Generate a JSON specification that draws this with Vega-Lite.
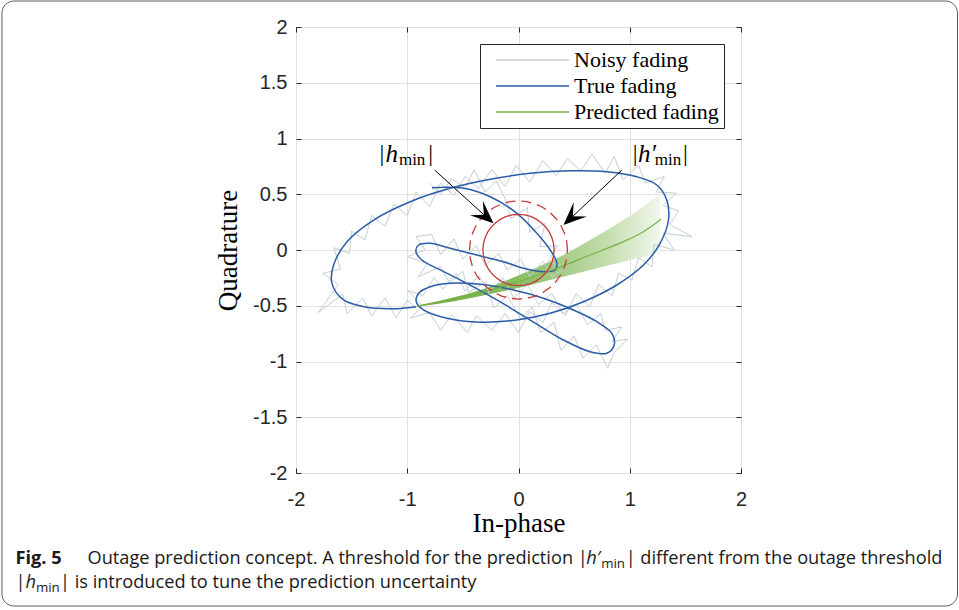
{
  "$schema": "https://vega.github.io/schema/vega-lite/v6.json",
  "width": 445,
  "height": 446,
  "autosize": {"type": "none"},
  "padding": {"left": 296, "top": 27, "right": 218, "bottom": 137},
  "background": "white",
  "config": {
    "font": "Liberation Sans",
    "view": {"stroke": "#262626", "strokeWidth": 1},
    "legend": {
      "orient": "top-right",
      "offset": 17,
      "strokeColor": "#262626",
      "fillColor": "white",
      "padding": 5,
      "symbolType": "M0,0L14.6,0",
      "symbolSize": 100,
      "symbolStrokeWidth": 1.5,
      "labelFont": "Liberation Serif",
      "labelFontSize": 22,
      "labelColor": "black",
      "labelOffset": 67,
      "rowPadding": 4
    }
  },
  "data": {"values": [{}]},
  "datasets": {
    "truth": [
      {"k": 1, "x": -0.778, "y": 0.559}, {"k": 2, "x": -0.494, "y": 0.553}, {"k": 3, "x": -0.254, "y": 0.478},
      {"k": 4, "x": -0.014, "y": 0.329}, {"k": 5, "x": 0.165, "y": 0.15}, {"k": 6, "x": 0.285, "y": 0.0},
      {"k": 7, "x": 0.345, "y": -0.119}, {"k": 8, "x": 0.33, "y": -0.179}, {"k": 9, "x": 0.225, "y": -0.195},
      {"k": 10, "x": 0.045, "y": -0.164}, {"k": 11, "x": -0.135, "y": -0.105}, {"k": 12, "x": -0.374, "y": -0.045},
      {"k": 13, "x": -0.614, "y": 0.015}, {"k": 14, "x": -0.793, "y": 0.06}, {"k": 15, "x": -0.898, "y": 0.045},
      {"k": 16, "x": -0.922, "y": -0.015}, {"k": 17, "x": -0.868, "y": -0.09}, {"k": 18, "x": -0.703, "y": -0.179},
      {"k": 19, "x": -0.464, "y": -0.299}, {"k": 20, "x": -0.194, "y": -0.448}, {"k": 21, "x": 0.105, "y": -0.628},
      {"k": 22, "x": 0.404, "y": -0.807}, {"k": 23, "x": 0.644, "y": -0.912}, {"k": 24, "x": 0.794, "y": -0.926},
      {"k": 25, "x": 0.86, "y": -0.852}, {"k": 26, "x": 0.839, "y": -0.747}, {"k": 27, "x": 0.704, "y": -0.643},
      {"k": 28, "x": 0.494, "y": -0.538}, {"k": 29, "x": 0.225, "y": -0.433}, {"k": 30, "x": -0.045, "y": -0.359},
      {"k": 31, "x": -0.344, "y": -0.308}, {"k": 32, "x": -0.614, "y": -0.299}, {"k": 33, "x": -0.793, "y": -0.329},
      {"k": 34, "x": -0.898, "y": -0.388}, {"k": 35, "x": -0.919, "y": -0.464}, {"k": 36, "x": -0.854, "y": -0.538},
      {"k": 37, "x": -0.643, "y": -0.613}, {"k": 38, "x": -0.344, "y": -0.648}, {"k": 39, "x": -0.014, "y": -0.628},
      {"k": 40, "x": 0.285, "y": -0.568}, {"k": 41, "x": 0.584, "y": -0.464}, {"k": 42, "x": 0.884, "y": -0.314},
      {"k": 43, "x": 1.123, "y": -0.135}, {"k": 44, "x": 1.273, "y": 0.06}, {"k": 45, "x": 1.348, "y": 0.269},
      {"k": 46, "x": 1.333, "y": 0.448}, {"k": 47, "x": 1.243, "y": 0.583}, {"k": 48, "x": 1.064, "y": 0.657},
      {"k": 49, "x": 0.794, "y": 0.702}, {"k": 50, "x": 0.465, "y": 0.711}, {"k": 51, "x": 0.105, "y": 0.688},
      {"k": 52, "x": -0.254, "y": 0.634}, {"k": 53, "x": -0.614, "y": 0.553}, {"k": 54, "x": -0.973, "y": 0.433},
      {"k": 55, "x": -1.302, "y": 0.269}, {"k": 56, "x": -1.542, "y": 0.074}, {"k": 57, "x": -1.662, "y": -0.135},
      {"k": 58, "x": -1.677, "y": -0.299}, {"k": 59, "x": -1.572, "y": -0.448}, {"k": 60, "x": -1.362, "y": -0.514},
      {"k": 61, "x": -1.093, "y": -0.526}, {"k": 62, "x": -0.919, "y": -0.509}
    ],
    "noisy": [
      {"k": 1, "x": -0.8, "y": 0.6}, {"k": 2, "x": -0.7, "y": 0.5}, {"k": 3, "x": -0.6, "y": 0.64}, {"k": 4, "x": -0.48, "y": 0.55},
      {"k": 5, "x": -0.4, "y": 0.72}, {"k": 6, "x": -0.3, "y": 0.52}, {"k": 7, "x": -0.2, "y": 0.62}, {"k": 8, "x": -0.1, "y": 0.42},
      {"k": 9, "x": -0.07, "y": 0.28}, {"k": 10, "x": 0.08, "y": 0.38}, {"k": 11, "x": 0.1, "y": 0.16}, {"k": 12, "x": 0.24, "y": 0.24},
      {"k": 13, "x": 0.19, "y": 0.03}, {"k": 14, "x": 0.35, "y": 0.04}, {"k": 15, "x": 0.27, "y": -0.1}, {"k": 16, "x": 0.42, "y": -0.16},
      {"k": 17, "x": 0.3, "y": -0.24}, {"k": 18, "x": 0.22, "y": -0.1}, {"k": 19, "x": 0.1, "y": -0.24}, {"k": 20, "x": 0.02, "y": -0.08},
      {"k": 21, "x": -0.1, "y": -0.18}, {"k": 22, "x": -0.18, "y": -0.03}, {"k": 23, "x": -0.3, "y": -0.14}, {"k": 24, "x": -0.38, "y": 0.04},
      {"k": 25, "x": -0.5, "y": -0.08}, {"k": 26, "x": -0.58, "y": 0.1}, {"k": 27, "x": -0.7, "y": -0.04}, {"k": 28, "x": -0.78, "y": 0.14},
      {"k": 29, "x": -0.92, "y": 0.12}, {"k": 30, "x": -0.84, "y": 0.0}, {"k": 31, "x": -1.0, "y": -0.06}, {"k": 32, "x": -0.82, "y": -0.12},
      {"k": 33, "x": -0.9, "y": -0.24}, {"k": 34, "x": -0.7, "y": -0.15}, {"k": 35, "x": -0.62, "y": -0.3}, {"k": 36, "x": -0.5, "y": -0.19},
      {"k": 37, "x": -0.45, "y": -0.38}, {"k": 38, "x": -0.3, "y": -0.29}, {"k": 39, "x": -0.22, "y": -0.52}, {"k": 40, "x": -0.1, "y": -0.41},
      {"k": 41, "x": 0.02, "y": -0.62}, {"k": 42, "x": 0.12, "y": -0.51}, {"k": 43, "x": 0.2, "y": -0.74}, {"k": 44, "x": 0.32, "y": -0.65},
      {"k": 45, "x": 0.38, "y": -0.9}, {"k": 46, "x": 0.5, "y": -0.77}, {"k": 47, "x": 0.58, "y": -0.97}, {"k": 48, "x": 0.7, "y": -0.85},
      {"k": 49, "x": 0.8, "y": -1.06}, {"k": 50, "x": 0.86, "y": -0.92}, {"k": 51, "x": 0.98, "y": -0.8}, {"k": 52, "x": 0.84, "y": -0.82},
      {"k": 53, "x": 0.93, "y": -0.69}, {"k": 54, "x": 0.78, "y": -0.72}, {"k": 55, "x": 0.74, "y": -0.57}, {"k": 56, "x": 0.62, "y": -0.67},
      {"k": 57, "x": 0.52, "y": -0.49}, {"k": 58, "x": 0.4, "y": -0.57}, {"k": 59, "x": 0.3, "y": -0.39}, {"k": 60, "x": 0.18, "y": -0.49},
      {"k": 61, "x": 0.08, "y": -0.31}, {"k": 62, "x": -0.04, "y": -0.43}, {"k": 63, "x": -0.14, "y": -0.25}, {"k": 64, "x": -0.26, "y": -0.37},
      {"k": 65, "x": -0.36, "y": -0.23}, {"k": 66, "x": -0.48, "y": -0.37}, {"k": 67, "x": -0.56, "y": -0.21}, {"k": 68, "x": -0.68, "y": -0.35},
      {"k": 69, "x": -0.76, "y": -0.25}, {"k": 70, "x": -0.86, "y": -0.41}, {"k": 71, "x": -1.0, "y": -0.36}, {"k": 72, "x": -0.86, "y": -0.5},
      {"k": 73, "x": -0.97, "y": -0.61}, {"k": 74, "x": -0.8, "y": -0.56}, {"k": 75, "x": -0.7, "y": -0.72}, {"k": 76, "x": -0.6, "y": -0.58},
      {"k": 77, "x": -0.46, "y": -0.74}, {"k": 78, "x": -0.38, "y": -0.59}, {"k": 79, "x": -0.24, "y": -0.72}, {"k": 80, "x": -0.12, "y": -0.57},
      {"k": 81, "x": 0.0, "y": -0.74}, {"k": 82, "x": 0.1, "y": -0.55}, {"k": 83, "x": 0.22, "y": -0.65}, {"k": 84, "x": 0.3, "y": -0.47},
      {"k": 85, "x": 0.42, "y": -0.59}, {"k": 86, "x": 0.52, "y": -0.39}, {"k": 87, "x": 0.64, "y": -0.51}, {"k": 88, "x": 0.72, "y": -0.31},
      {"k": 89, "x": 0.84, "y": -0.41}, {"k": 90, "x": 0.9, "y": -0.21}, {"k": 91, "x": 1.02, "y": -0.27}, {"k": 92, "x": 1.08, "y": -0.07},
      {"k": 93, "x": 1.2, "y": -0.15}, {"k": 94, "x": 1.22, "y": 0.05}, {"k": 95, "x": 1.4, "y": 0.0}, {"k": 96, "x": 1.3, "y": 0.15},
      {"k": 97, "x": 1.56, "y": 0.12}, {"k": 98, "x": 1.36, "y": 0.23}, {"k": 99, "x": 1.44, "y": 0.35}, {"k": 100, "x": 1.3, "y": 0.4},
      {"k": 101, "x": 1.42, "y": 0.51}, {"k": 102, "x": 1.24, "y": 0.52}, {"k": 103, "x": 1.31, "y": 0.66}, {"k": 104, "x": 1.14, "y": 0.6},
      {"k": 105, "x": 1.08, "y": 0.76}, {"k": 106, "x": 0.94, "y": 0.63}, {"k": 107, "x": 0.86, "y": 0.84}, {"k": 108, "x": 0.78, "y": 0.69},
      {"k": 109, "x": 0.66, "y": 0.86}, {"k": 110, "x": 0.56, "y": 0.71}, {"k": 111, "x": 0.44, "y": 0.82}, {"k": 112, "x": 0.34, "y": 0.67},
      {"k": 113, "x": 0.22, "y": 0.8}, {"k": 114, "x": 0.1, "y": 0.61}, {"k": 115, "x": -0.02, "y": 0.76}, {"k": 116, "x": -0.12, "y": 0.57},
      {"k": 117, "x": -0.24, "y": 0.72}, {"k": 118, "x": -0.36, "y": 0.55}, {"k": 119, "x": -0.48, "y": 0.66}, {"k": 120, "x": -0.58, "y": 0.49},
      {"k": 121, "x": -0.7, "y": 0.6}, {"k": 122, "x": -0.8, "y": 0.39}, {"k": 123, "x": -0.92, "y": 0.52}, {"k": 124, "x": -1.0, "y": 0.31},
      {"k": 125, "x": -1.12, "y": 0.41}, {"k": 126, "x": -1.2, "y": 0.21}, {"k": 127, "x": -1.32, "y": 0.31}, {"k": 128, "x": -1.38, "y": 0.09},
      {"k": 129, "x": -1.5, "y": 0.17}, {"k": 130, "x": -1.52, "y": -0.03}, {"k": 131, "x": -1.66, "y": 0.02}, {"k": 132, "x": -1.6, "y": -0.17},
      {"k": 133, "x": -1.76, "y": -0.21}, {"k": 134, "x": -1.62, "y": -0.31}, {"k": 135, "x": -1.8, "y": -0.56}, {"k": 136, "x": -1.58, "y": -0.4},
      {"k": 137, "x": -1.54, "y": -0.57}, {"k": 138, "x": -1.4, "y": -0.43}, {"k": 139, "x": -1.32, "y": -0.59}, {"k": 140, "x": -1.2, "y": -0.43},
      {"k": 141, "x": -1.1, "y": -0.61}, {"k": 142, "x": -1.0, "y": -0.45}, {"k": 143, "x": -0.92, "y": -0.52}
    ],
    "pred": [
      {"k": 1, "x": -0.913, "y": -0.502}, {"k": 2, "x": -0.553, "y": -0.434}, {"k": 3, "x": -0.254, "y": -0.359},
      {"k": 4, "x": 0.045, "y": -0.269}, {"k": 5, "x": 0.345, "y": -0.164}, {"k": 6, "x": 0.644, "y": -0.045},
      {"k": 7, "x": 0.943, "y": 0.075}, {"k": 8, "x": 1.123, "y": 0.164}, {"k": 9, "x": 1.282, "y": 0.275}
    ],
    "band": [
      {"x": -0.913, "hi": -0.502, "lo": -0.508}, {"x": -0.553, "hi": -0.418, "lo": -0.455},
      {"x": -0.254, "hi": -0.329, "lo": -0.395}, {"x": 0.045, "hi": -0.209, "lo": -0.329},
      {"x": 0.345, "hi": -0.075, "lo": -0.254}, {"x": 0.644, "hi": 0.09, "lo": -0.179},
      {"x": 0.943, "hi": 0.269, "lo": -0.105}, {"x": 1.123, "hi": 0.388, "lo": -0.06},
      {"x": 1.273, "hi": 0.508, "lo": -0.03}
    ],
    "ringInner": [
      {"k": 0, "x": 0.32, "y": 0}, {"k": 1, "x": 0.3151, "y": 0.0556}, {"k": 2, "x": 0.3007, "y": 0.1094},
      {"k": 3, "x": 0.2771, "y": 0.16}, {"k": 4, "x": 0.2451, "y": 0.2057}, {"k": 5, "x": 0.2057, "y": 0.2451},
      {"k": 6, "x": 0.16, "y": 0.2771}, {"k": 7, "x": 0.1094, "y": 0.3007}, {"k": 8, "x": 0.0556, "y": 0.3151},
      {"k": 9, "x": 0, "y": 0.32}, {"k": 10, "x": -0.0556, "y": 0.3151}, {"k": 11, "x": -0.1094, "y": 0.3007},
      {"k": 12, "x": -0.16, "y": 0.2771}, {"k": 13, "x": -0.2057, "y": 0.2451}, {"k": 14, "x": -0.2451, "y": 0.2057},
      {"k": 15, "x": -0.2771, "y": 0.16}, {"k": 16, "x": -0.3007, "y": 0.1094}, {"k": 17, "x": -0.3151, "y": 0.0556},
      {"k": 18, "x": -0.32, "y": 0}, {"k": 19, "x": -0.3151, "y": -0.0556}, {"k": 20, "x": -0.3007, "y": -0.1094},
      {"k": 21, "x": -0.2771, "y": -0.16}, {"k": 22, "x": -0.2451, "y": -0.2057}, {"k": 23, "x": -0.2057, "y": -0.2451},
      {"k": 24, "x": -0.16, "y": -0.2771}, {"k": 25, "x": -0.1094, "y": -0.3007}, {"k": 26, "x": -0.0556, "y": -0.3151},
      {"k": 27, "x": 0, "y": -0.32}, {"k": 28, "x": 0.0556, "y": -0.3151}, {"k": 29, "x": 0.1094, "y": -0.3007},
      {"k": 30, "x": 0.16, "y": -0.2771}, {"k": 31, "x": 0.2057, "y": -0.2451}, {"k": 32, "x": 0.2451, "y": -0.2057},
      {"k": 33, "x": 0.2771, "y": -0.16}, {"k": 34, "x": 0.3007, "y": -0.1094}, {"k": 35, "x": 0.3151, "y": -0.0556},
      {"k": 36, "x": 0.32, "y": 0}
    ],
    "ringOuter": [
      {"k": 0, "x": 0.44, "y": 0}, {"k": 1, "x": 0.4333, "y": 0.0764}, {"k": 2, "x": 0.4135, "y": 0.1505},
      {"k": 3, "x": 0.3811, "y": 0.22}, {"k": 4, "x": 0.337, "y": 0.2828}, {"k": 5, "x": 0.2828, "y": 0.337},
      {"k": 6, "x": 0.22, "y": 0.3811}, {"k": 7, "x": 0.1505, "y": 0.4135}, {"k": 8, "x": 0.0764, "y": 0.4333},
      {"k": 9, "x": 0, "y": 0.44}, {"k": 10, "x": -0.0764, "y": 0.4333}, {"k": 11, "x": -0.1505, "y": 0.4135},
      {"k": 12, "x": -0.22, "y": 0.3811}, {"k": 13, "x": -0.2828, "y": 0.337}, {"k": 14, "x": -0.337, "y": 0.2828},
      {"k": 15, "x": -0.3811, "y": 0.22}, {"k": 16, "x": -0.4135, "y": 0.1505}, {"k": 17, "x": -0.4333, "y": 0.0764},
      {"k": 18, "x": -0.44, "y": 0}, {"k": 19, "x": -0.4333, "y": -0.0764}, {"k": 20, "x": -0.4135, "y": -0.1505},
      {"k": 21, "x": -0.3811, "y": -0.22}, {"k": 22, "x": -0.337, "y": -0.2828}, {"k": 23, "x": -0.2828, "y": -0.337},
      {"k": 24, "x": -0.22, "y": -0.3811}, {"k": 25, "x": -0.1505, "y": -0.4135}, {"k": 26, "x": -0.0764, "y": -0.4333},
      {"k": 27, "x": 0, "y": -0.44}, {"k": 28, "x": 0.0764, "y": -0.4333}, {"k": 29, "x": 0.1505, "y": -0.4135},
      {"k": 30, "x": 0.22, "y": -0.3811}, {"k": 31, "x": 0.2828, "y": -0.337}, {"k": 32, "x": 0.337, "y": -0.2828},
      {"k": 33, "x": 0.3811, "y": -0.22}, {"k": 34, "x": 0.4135, "y": -0.1505}, {"k": 35, "x": 0.4333, "y": -0.0764},
      {"k": 36, "x": 0.44, "y": 0}
    ]
  },
  "resolve": {"axis": {"x": "independent", "y": "independent"}},
  "layer": [
    {
      "data": {"name": "band"},
      "mark": {
        "type": "area",
        "interpolate": "monotone",
        "fill": {
          "gradient": "linear", "x1": 0, "y1": 0, "x2": 1, "y2": 0,
          "stops": [
            {"offset": 0, "color": "#6dab3c"},
            {"offset": 0.45, "color": "#8cc068"},
            {"offset": 0.75, "color": "#bedaa6"},
            {"offset": 1, "color": "#f1f7ec"}
          ]
        }
      },
      "encoding": {
        "x": {"field": "x", "type": "quantitative", "scale": {"domain": [-2, 2], "nice": false, "zero": false}, "axis": null},
        "y": {"field": "hi", "type": "quantitative", "scale": {"domain": [-2, 2], "nice": false, "zero": false}, "axis": null},
        "y2": {"field": "lo"}
      }
    },
    {
      "data": {"name": "noisy"},
      "mark": {"type": "line", "strokeWidth": 1},
      "encoding": {
        "x": {"field": "x", "type": "quantitative", "axis": null},
        "y": {"field": "y", "type": "quantitative", "axis": null},
        "order": {"field": "k", "type": "quantitative"},
        "color": {
          "datum": "Noisy fading", "type": "nominal",
          "scale": {"domain": ["Noisy fading", "True fading", "Predicted fading"], "range": ["#c3ced6", "#2b5ca8", "#77b144"]},
          "legend": {"title": null}
        }
      }
    },
    {
      "data": {"name": "truth"},
      "mark": {"type": "line", "strokeWidth": 1.5, "interpolate": "catmull-rom"},
      "encoding": {
        "x": {
          "field": "x", "type": "quantitative",
          "axis": {
            "orient": "bottom", "values": [-2, -1, 0, 1, 2], "labelExpr": "'' + datum.value",
            "grid": true, "gridColor": "#e1e1e1", "domain": false,
            "tickSize": -5, "tickColor": "#262626", "labelPadding": 21,
            "labelFont": "Liberation Sans", "labelFontSize": 20, "labelColor": "#262626",
            "labelFlush": false, "labelOverlap": false,
            "title": "In-phase", "titleFont": "Liberation Serif", "titleFontSize": 27,
            "titleFontWeight": "normal", "titleColor": "black", "titlePadding": 1
          }
        },
        "y": {
          "field": "y", "type": "quantitative",
          "axis": {
            "orient": "left", "values": [-2, -1.5, -1, -0.5, 0, 0.5, 1, 1.5, 2], "labelExpr": "'' + datum.value",
            "grid": true, "gridColor": "#e1e1e1", "domain": false,
            "tickSize": -5, "tickColor": "#262626", "labelPadding": 14,
            "labelFont": "Liberation Sans", "labelFontSize": 20, "labelColor": "#262626",
            "labelFlush": false, "labelOverlap": false,
            "title": "Quadrature", "titleFont": "Liberation Serif", "titleFontSize": 27,
            "titleFontWeight": "normal", "titleColor": "black", "titlePadding": 10
          }
        },
        "order": {"field": "k", "type": "quantitative"},
        "color": {"datum": "True fading", "type": "nominal", "legend": {"title": null}}
      }
    },
    {
      "data": {"name": "pred"},
      "mark": {"type": "line", "strokeWidth": 1.2, "interpolate": "catmull-rom"},
      "encoding": {
        "x": {
          "field": "x", "type": "quantitative",
          "axis": {"orient": "top", "values": [-2, -1, 0, 1, 2], "labels": false, "grid": false, "domain": false, "tickSize": -5, "tickColor": "#262626", "title": null}
        },
        "y": {
          "field": "y", "type": "quantitative",
          "axis": {"orient": "right", "values": [-2, -1.5, -1, -0.5, 0, 0.5, 1, 1.5, 2], "labels": false, "grid": false, "domain": false, "tickSize": -5, "tickColor": "#262626", "title": null}
        },
        "order": {"field": "k", "type": "quantitative"},
        "color": {"datum": "Predicted fading", "type": "nominal", "legend": {"title": null}}
      }
    },
    {
      "data": {"name": "ringInner"},
      "mark": {"type": "line", "stroke": "#c43a3a", "strokeWidth": 1.3},
      "encoding": {
        "x": {"field": "x", "type": "quantitative", "axis": null},
        "y": {"field": "y", "type": "quantitative", "axis": null},
        "order": {"field": "k", "type": "quantitative"}
      }
    },
    {
      "data": {"name": "ringOuter"},
      "mark": {"type": "line", "stroke": "#c43a3a", "strokeWidth": 1.3, "strokeDash": [10, 6]},
      "encoding": {
        "x": {"field": "x", "type": "quantitative", "axis": null},
        "y": {"field": "y", "type": "quantitative", "axis": null},
        "order": {"field": "k", "type": "quantitative"}
      }
    },
    {
      "mark": {"type": "rule", "stroke": "black", "strokeWidth": 1},
      "encoding": {
        "x": {"datum": -0.754, "type": "quantitative", "axis": null},
        "y": {"datum": 0.717, "type": "quantitative", "axis": null},
        "x2": {"datum": -0.312},
        "y2": {"datum": 0.317}
      }
    },
    {
      "mark": {"type": "rule", "stroke": "black", "strokeWidth": 1},
      "encoding": {
        "x": {"datum": 0.929, "type": "quantitative", "axis": null},
        "y": {"datum": 0.717, "type": "quantitative", "axis": null},
        "x2": {"datum": 0.49},
        "y2": {"datum": 0.304}
      }
    },
    {
      "mark": {"type": "point", "shape": "M0,0L-1,-0.42L-0.56,0L-1,0.42Z", "filled": true, "fill": "black", "strokeWidth": 0, "opacity": 1, "size": 2116, "angle": 41.9},
      "encoding": {
        "x": {"datum": -0.225, "type": "quantitative", "axis": null},
        "y": {"datum": 0.239, "type": "quantitative", "axis": null}
      }
    },
    {
      "mark": {"type": "point", "shape": "M0,0L-1,-0.42L-0.56,0L-1,0.42Z", "filled": true, "fill": "black", "strokeWidth": 0, "opacity": 1, "size": 2116, "angle": 137},
      "encoding": {
        "x": {"datum": 0.404, "type": "quantitative", "axis": null},
        "y": {"datum": 0.224, "type": "quantitative", "axis": null}
      }
    },
    {
      "mark": {"type": "text", "text": "|", "font": "Liberation Serif", "fontSize": 24, "align": "center", "baseline": "alphabetic", "color": "black"},
      "encoding": {"x": {"datum": -1.227, "type": "quantitative", "axis": null}, "y": {"datum": 0.798, "type": "quantitative", "axis": null}}
    },
    {
      "mark": {"type": "text", "text": "h", "font": "Liberation Serif", "fontStyle": "italic", "fontSize": 25, "align": "left", "baseline": "alphabetic", "color": "black"},
      "encoding": {"x": {"datum": -1.195, "type": "quantitative", "axis": null}, "y": {"datum": 0.792, "type": "quantitative", "axis": null}}
    },
    {
      "mark": {"type": "text", "text": "min", "font": "Liberation Serif", "fontSize": 17, "align": "left", "baseline": "alphabetic", "color": "black"},
      "encoding": {"x": {"datum": -1.075, "type": "quantitative", "axis": null}, "y": {"datum": 0.758, "type": "quantitative", "axis": null}}
    },
    {
      "mark": {"type": "text", "text": "|", "font": "Liberation Serif", "fontSize": 24, "align": "center", "baseline": "alphabetic", "color": "black"},
      "encoding": {"x": {"datum": -0.79, "type": "quantitative", "axis": null}, "y": {"datum": 0.798, "type": "quantitative", "axis": null}}
    },
    {
      "mark": {"type": "text", "text": "|", "font": "Liberation Serif", "fontSize": 24, "align": "center", "baseline": "alphabetic", "color": "black"},
      "encoding": {"x": {"datum": 1.049, "type": "quantitative", "axis": null}, "y": {"datum": 0.798, "type": "quantitative", "axis": null}}
    },
    {
      "mark": {"type": "text", "text": "h′", "font": "Liberation Serif", "fontStyle": "italic", "fontSize": 25, "align": "left", "baseline": "alphabetic", "color": "black"},
      "encoding": {"x": {"datum": 1.075, "type": "quantitative", "axis": null}, "y": {"datum": 0.792, "type": "quantitative", "axis": null}}
    },
    {
      "mark": {"type": "text", "text": "min", "font": "Liberation Serif", "fontSize": 17, "align": "left", "baseline": "alphabetic", "color": "black"},
      "encoding": {"x": {"datum": 1.225, "type": "quantitative", "axis": null}, "y": {"datum": 0.758, "type": "quantitative", "axis": null}}
    },
    {
      "mark": {"type": "text", "text": "|", "font": "Liberation Serif", "fontSize": 24, "align": "center", "baseline": "alphabetic", "color": "black"},
      "encoding": {"x": {"datum": 1.5, "type": "quantitative", "axis": null}, "y": {"datum": 0.798, "type": "quantitative", "axis": null}}
    },
    {
      "mark": {"type": "rect", "fill": null, "fillOpacity": 0, "stroke": "#5a5a5a", "strokeWidth": 1, "cornerRadius": 12},
      "encoding": {
        "x": {"datum": -4.643, "type": "quantitative", "axis": null},
        "x2": {"datum": 3.946},
        "y": {"datum": 2.233, "type": "quantitative", "axis": null},
        "y2": {"datum": -3.193}
      }
    },
    {
      "mark": {"type": "text", "text": "Fig. 5", "font": "Open Sans", "fontWeight": "bold", "fontSize": 18.2, "align": "left", "baseline": "alphabetic", "color": "#1a1a1a"},
      "encoding": {"x": {"datum": -4.522, "type": "quantitative", "axis": null}, "y": {"datum": -2.816, "type": "quantitative", "axis": null}}
    },
    {
      "mark": {"type": "text", "text": "Outage prediction concept. A threshold for the prediction |", "font": "Open Sans", "fontSize": 18.2, "align": "left", "baseline": "alphabetic", "color": "#1a1a1a"},
      "encoding": {"x": {"datum": -3.874, "type": "quantitative", "axis": null}, "y": {"datum": -2.816, "type": "quantitative", "axis": null}}
    },
    {
      "mark": {"type": "text", "text": "h′", "font": "Open Sans", "fontStyle": "italic", "fontSize": 18.2, "align": "left", "baseline": "alphabetic", "color": "#1a1a1a"},
      "encoding": {"x": {"datum": 0.608, "type": "quantitative", "axis": null}, "y": {"datum": -2.816, "type": "quantitative", "axis": null}}
    },
    {
      "mark": {"type": "text", "text": "min", "font": "Open Sans", "fontSize": 13.3, "align": "left", "baseline": "alphabetic", "color": "#1a1a1a"},
      "encoding": {"x": {"datum": 0.743, "type": "quantitative", "axis": null}, "y": {"datum": -2.852, "type": "quantitative", "axis": null}}
    },
    {
      "mark": {"type": "text", "text": "| different from the outage threshold", "font": "Open Sans", "fontSize": 18.2, "align": "left", "baseline": "alphabetic", "color": "#1a1a1a"},
      "encoding": {"x": {"datum": 0.963, "type": "quantitative", "axis": null}, "y": {"datum": -2.816, "type": "quantitative", "axis": null}}
    },
    {
      "mark": {"type": "text", "text": "|", "font": "Open Sans", "fontSize": 18.2, "align": "left", "baseline": "alphabetic", "color": "#1a1a1a"},
      "encoding": {"x": {"datum": -4.522, "type": "quantitative", "axis": null}, "y": {"datum": -3.031, "type": "quantitative", "axis": null}}
    },
    {
      "mark": {"type": "text", "text": "h", "font": "Open Sans", "fontStyle": "italic", "fontSize": 18.2, "align": "left", "baseline": "alphabetic", "color": "#1a1a1a"},
      "encoding": {"x": {"datum": -4.432, "type": "quantitative", "axis": null}, "y": {"datum": -3.031, "type": "quantitative", "axis": null}}
    },
    {
      "mark": {"type": "text", "text": "min", "font": "Open Sans", "fontSize": 13.3, "align": "left", "baseline": "alphabetic", "color": "#1a1a1a"},
      "encoding": {"x": {"datum": -4.338, "type": "quantitative", "axis": null}, "y": {"datum": -3.067, "type": "quantitative", "axis": null}}
    },
    {
      "mark": {"type": "text", "text": "| is introduced to tune the prediction uncertainty", "font": "Open Sans", "fontSize": 18.2, "align": "left", "baseline": "alphabetic", "color": "#1a1a1a"},
      "encoding": {"x": {"datum": -4.122, "type": "quantitative", "axis": null}, "y": {"datum": -3.031, "type": "quantitative", "axis": null}}
    }
  ]
}
